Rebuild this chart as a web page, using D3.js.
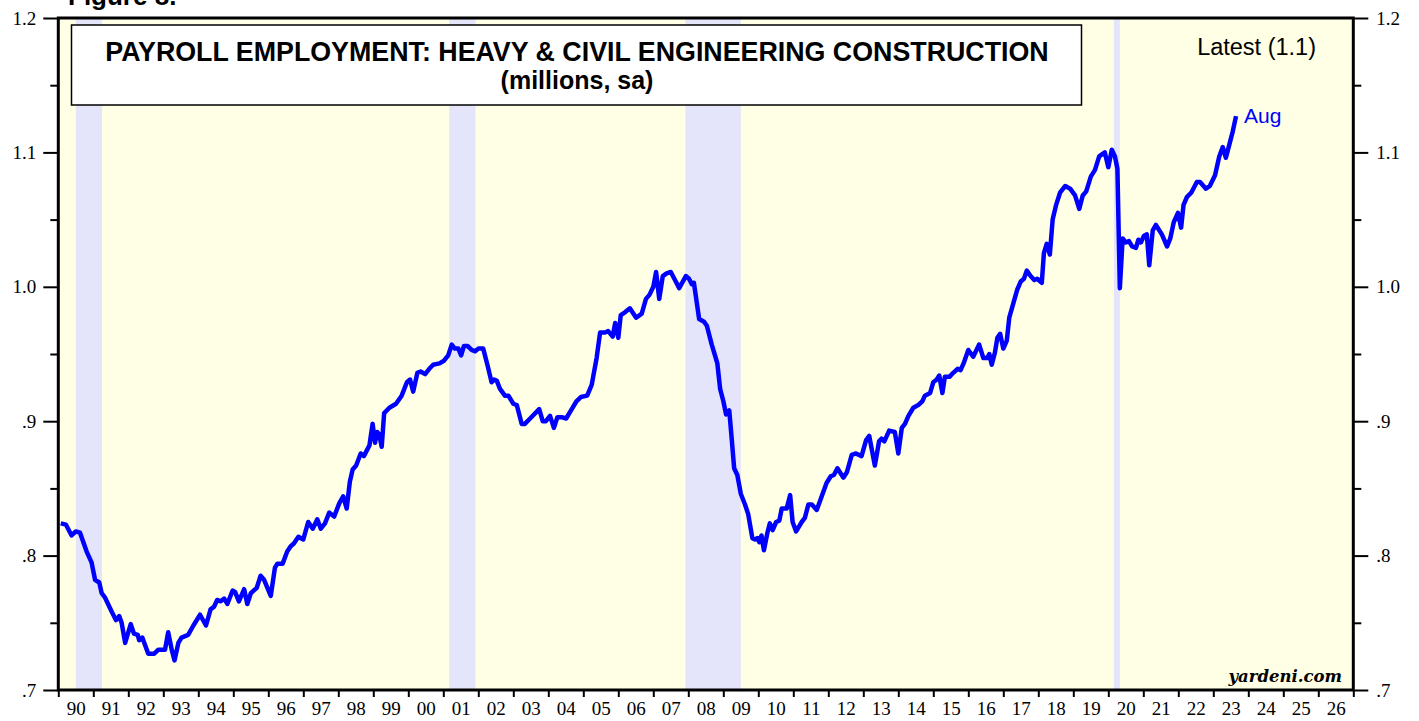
<!DOCTYPE html>
<html>
<head>
<meta charset="utf-8">
<script src="https://cdn.jsdelivr.net/npm/d3@7"></script>
<style>
    body { margin: 0; background: #fff; }
    svg { display: block; }
</style>
</head>
<body>
<svg id="chart" width="1419" height="721"></svg>
<script>
// [decimal year, millions]
const data1990s = [
    [1990.07,.824],[1990.22,.823],[1990.38,.815],[1990.5,.818],[1990.62,.817],[1990.81,.803],[1990.95,.795],
    [1991.05,.782],[1991.17,.780],[1991.24,.772],[1991.33,.769],[1991.53,.758],[1991.65,.752],[1991.74,.755],
    [1991.81,.750],[1991.91,.735],[1992.07,.749],[1992.16,.742],[1992.27,.741],[1992.31,.737],[1992.4,.739],
    [1992.57,.727],[1992.74,.727],[1992.86,.730],[1993.05,.730],[1993.14,.743],[1993.24,.730],[1993.32,.722],
    [1993.43,.735],[1993.52,.739],[1993.71,.741],[1993.86,.748],[1994.05,.756],[1994.22,.748],[1994.35,.760],
    [1994.45,.762],[1994.54,.767],[1994.64,.766],[1994.74,.768],[1994.83,.764],[1994.98,.774],[1995.05,.773],
    [1995.16,.766],[1995.31,.775],[1995.4,.764],[1995.5,.772],[1995.67,.776],[1995.78,.785],[1995.88,.782],
    [1996.07,.770],[1996.19,.791],[1996.26,.794],[1996.41,.794],[1996.54,.803],[1996.64,.807],[1996.73,.809],
    [1996.86,.814],[1997.0,.812],[1997.14,.825],[1997.27,.820],[1997.4,.827],[1997.5,.820],[1997.62,.824],
    [1997.74,.832],[1997.88,.829],[1998.03,.839],[1998.14,.844],[1998.24,.835],[1998.33,.855],[1998.41,.864],
    [1998.51,.867],[1998.64,.876],[1998.73,.874],[1998.89,.882],[1998.98,.898],[1999.05,.884],[1999.11,.892],
    [1999.17,.890],[1999.24,.881],[1999.31,.906],[1999.46,.910],[1999.65,.913],[1999.81,.919],[1999.96,.929]
];
const data2000s = [
    [2000.05,.931],[2000.14,.922],[2000.26,.936],[2000.35,.937],[2000.48,.935],[2000.6,.939],[2000.71,.942],
    [2000.89,.943],[2001.02,.945],[2001.14,.949],[2001.24,.957],[2001.33,.954],[2001.43,.954],[2001.51,.949],
    [2001.59,.956],[2001.69,.956],[2001.81,.953],[2001.91,.952],[2002.0,.954],[2002.14,.954],[2002.26,.942],
    [2002.38,.929],[2002.45,.931],[2002.53,.930],[2002.62,.924],[2002.76,.919],[2002.86,.919],[2003.0,.913],
    [2003.1,.912],[2003.24,.898],[2003.33,.898],[2003.48,.902],[2003.74,.909],[2003.84,.900],[2003.93,.900],
    [2004.05,.904],[2004.16,.895],[2004.26,.903],[2004.38,.903],[2004.51,.902],[2004.67,.909],[2004.81,.915],
    [2004.93,.918],[2005.11,.919],[2005.24,.927],[2005.38,.947],[2005.48,.966],[2005.62,.966],[2005.71,.967],
    [2005.84,.963],[2005.91,.973],[2006.0,.962],[2006.07,.979],[2006.19,.981],[2006.33,.984],[2006.51,.977],
    [2006.67,.980],[2006.79,.991],[2006.89,.994],[2007.0,1.000],[2007.08,1.011],[2007.17,.991],[2007.27,1.008],
    [2007.38,1.010],[2007.5,1.011],[2007.62,1.005],[2007.74,.999],[2007.93,1.008],[2008.02,1.006],[2008.1,1.002],
    [2008.16,1.003],[2008.31,.976],[2008.45,.974],[2008.53,.971],[2008.67,.957],[2008.83,.943],[2008.91,.924],
    [2009.0,.915],[2009.08,.905],[2009.17,.908],[2009.24,.887],[2009.31,.865],[2009.4,.860],[2009.5,.846],
    [2009.62,.838],[2009.71,.831],[2009.83,.813],[2009.91,.812],[2009.97,.813]
];
const data2010s = [
    [2010.03,.810],[2010.09,.815],[2010.16,.804],[2010.26,.817],[2010.33,.824],[2010.41,.819],[2010.51,.825],
    [2010.6,.826],[2010.67,.835],[2010.81,.835],[2010.91,.845],[2010.98,.825],[2011.08,.818],[2011.17,.822],
    [2011.24,.825],[2011.33,.828],[2011.43,.838],[2011.53,.838],[2011.67,.834],[2011.81,.844],[2011.95,.854],
    [2012.07,.859],[2012.16,.860],[2012.26,.865],[2012.43,.858],[2012.53,.862],[2012.67,.875],[2012.79,.876],
    [2012.95,.874],[2013.08,.886],[2013.17,.889],[2013.33,.867],[2013.45,.885],[2013.52,.887],[2013.6,.885],
    [2013.74,.893],[2013.9,.892],[2014.0,.876],[2014.1,.895],[2014.19,.898],[2014.29,.904],[2014.43,.910],
    [2014.57,.912],[2014.69,.915],[2014.76,.919],[2014.91,.921],[2015.0,.929],[2015.1,.931],[2015.17,.934],
    [2015.26,.921],[2015.33,.933],[2015.46,.933],[2015.57,.936],[2015.7,.939],[2015.78,.938],[2015.88,.944],
    [2016.0,.953],[2016.14,.948],[2016.31,.957],[2016.43,.947],[2016.54,.947],[2016.6,.950],[2016.67,.942],
    [2016.76,.951],[2016.83,.962],[2016.91,.965],[2017.0,.954],[2017.1,.960],[2017.17,.977],[2017.29,.988],
    [2017.4,.998],[2017.5,1.004],[2017.59,1.006],[2017.67,1.012],[2017.78,1.008],[2017.89,1.005],[2017.97,1.006],
    [2018.1,1.003],[2018.16,1.025],[2018.24,1.032],[2018.33,1.024],[2018.41,1.050],[2018.51,1.061],[2018.62,1.070],
    [2018.77,1.075],[2018.91,1.073],[2019.05,1.068],[2019.17,1.058],[2019.27,1.068],[2019.37,1.071],[2019.5,1.082],
    [2019.62,1.087],[2019.74,1.097],[2019.9,1.100]
];
const data2020s = [
    [2020.0,1.089],[2020.1,1.102],[2020.19,1.097],[2020.26,1.088],[2020.33,.999],[2020.41,1.036],[2020.5,1.033],
    [2020.59,1.034],[2020.68,1.030],[2020.79,1.029],[2020.86,1.035],[2020.93,1.033],[2021.02,1.038],[2021.1,1.039],
    [2021.17,1.016],[2021.27,1.042],[2021.36,1.046],[2021.53,1.039],[2021.68,1.030],[2021.77,1.036],[2021.87,1.048],
    [2021.99,1.055],[2022.08,1.044],[2022.15,1.061],[2022.25,1.067],[2022.37,1.070],[2022.53,1.078],[2022.62,1.078],
    [2022.79,1.073],[2022.9,1.075],[2023.05,1.083],[2023.17,1.097],[2023.27,1.104],[2023.36,1.096],[2023.48,1.108],
    [2023.55,1.115],[2023.65,1.127]
];

// recessions [start, end] as decimal years
const recessions = [[1990.5, 1991.25], [2001.17, 2001.92], [2007.92, 2009.5], [2020.16, 2020.33]];

const yTicks = [0.7, 0.8, 0.9, 1.0, 1.1, 1.2];
const yMinorTicks = [0.75, 0.85, 0.95, 1.05, 1.15];
const yearTicks = d3.range(1990, 2028);
const yearLabels = ['90','91','92','93','94','95','96','97','98','99','00','01','02','03','04','05','06','07','08','09',
    '10','11','12','13','14','15','16','17','18','19','20','21','22','23','24','25','26'];

const titleText = 'PAYROLL EMPLOYMENT: HEAVY & CIVIL ENGINEERING CONSTRUCTION';
const subtitleText = '(millions, sa)';
const latestText = 'Latest (1.1)';
const lastLabel = 'Aug';

const series = [...data1990s, ...data2000s, ...data2010s, ...data2020s];

const svg = d3.select('#chart');
const plotLeft = 58.3, plotRight = 1353.3, plotTop = 18, plotBottom = 690;
const sans = 'Liberation Sans, Arial, sans-serif';
const serif = 'Liberation Serif, Times New Roman, serif';

const x = d3.scaleLinear().domain([1990, 2027]).range([plotLeft, plotRight]);
const y = d3.scaleLinear().domain([0.7, 1.2]).range([plotBottom, plotTop]);

// plot background
svg.append('rect')
    .attr('x', plotLeft).attr('y', plotTop)
    .attr('width', plotRight - plotLeft).attr('height', plotBottom - plotTop)
    .attr('fill', '#ffffe5');

// recession bands
svg.append('g')
    .selectAll('rect')
    .data(recessions)
    .join('rect')
    .attr('x', d => x(d[0]))
    .attr('width', d => x(d[1]) - x(d[0]))
    .attr('y', plotTop)
    .attr('height', plotBottom - plotTop)
    .attr('fill', '#e4e4fa');

// title box
svg.append('rect')
    .attr('x', 71.5).attr('y', 25)
    .attr('width', 1010).attr('height', 80)
    .attr('fill', '#fff')
    .attr('stroke', '#000')
    .attr('stroke-width', 1.5);

svg.append('text')
    .attr('x', 577).attr('y', 61)
    .attr('text-anchor', 'middle')
    .attr('font-family', sans)
    .attr('font-weight', 'bold')
    .attr('font-size', 26.8)
    .text(titleText);

svg.append('text')
    .attr('x', 577).attr('y', 89)
    .attr('text-anchor', 'middle')
    .attr('font-family', sans)
    .attr('font-weight', 'bold')
    .attr('font-size', 25)
    .text(subtitleText);

svg.append('text')
    .attr('x', 1316).attr('y', 55)
    .attr('text-anchor', 'end')
    .attr('font-family', sans)
    .attr('font-size', 23.5)
    .text(latestText);

svg.append('text')
    .attr('x', 1342).attr('y', 682)
    .attr('text-anchor', 'end')
    .attr('font-family', 'DejaVu Serif, serif')
    .attr('font-weight', 'bold')
    .attr('font-style', 'italic')
    .attr('font-size', 16.5)
    .text('yardeni.com');

// figure caption, cut at the top like the original
svg.append('text')
    .attr('x', 68).attr('y', 5)
    .attr('font-family', sans)
    .attr('font-weight', 'bold')
    .attr('font-size', 26)
    .text('Figure 8.');

// the line
const line = d3.line()
    .x(d => x(d[0]))
    .y(d => y(d[1]));

svg.append('path')
    .datum(series)
    .attr('fill', 'none')
    .attr('stroke', '#0000ff')
    .attr('stroke-width', 4.5)
    .attr('stroke-linejoin', 'round')
    .attr('d', line);

const last = series[series.length - 1];
svg.append('text')
    .attr('x', x(last[0]) + 8)
    .attr('y', y(last[1]) + 7)
    .attr('font-family', sans)
    .attr('font-size', 21)
    .attr('fill', '#0000ff')
    .text(lastLabel);

// axes
const fmt = d => d >= 1 ? d.toFixed(1) : d.toFixed(1).slice(1);

function styleAxis(g) {
    g.select('.domain').remove();
    g.selectAll('line').attr('stroke', '#000').attr('stroke-width', 2);
    g.selectAll('text')
        .attr('font-family', serif)
        .attr('font-size', 19)
        .attr('fill', '#000');
}

svg.append('g')
    .attr('transform', `translate(${plotLeft},0)`)
    .call(d3.axisLeft(y).tickValues(yTicks).tickSize(15).tickPadding(7).tickFormat(fmt))
    .call(styleAxis);
svg.append('g')
    .attr('transform', `translate(${plotLeft},0)`)
    .call(d3.axisLeft(y).tickValues(yMinorTicks).tickSize(8).tickFormat(''))
    .call(styleAxis);
svg.append('g')
    .attr('transform', `translate(${plotRight},0)`)
    .call(d3.axisRight(y).tickValues(yTicks).tickSize(15).tickPadding(8).tickFormat(fmt))
    .call(styleAxis);
svg.append('g')
    .attr('transform', `translate(${plotRight},0)`)
    .call(d3.axisRight(y).tickValues(yMinorTicks).tickSize(8).tickFormat(''))
    .call(styleAxis);

svg.append('g')
    .attr('transform', `translate(0,${plotBottom})`)
    .call(d3.axisBottom(x).tickValues(yearTicks).tickSize(7).tickFormat(''))
    .call(styleAxis);
svg.append('g')
    .attr('transform', `translate(0,${plotBottom})`)
    .call(d3.axisBottom(x).tickValues(yearLabels.map((d, i) => 1990.5 + i)).tickSize(0).tickPadding(12)
        .tickFormat((d, i) => yearLabels[i]))
    .call(styleAxis);

// frame
svg.append('rect')
    .attr('x', plotLeft).attr('y', plotTop)
    .attr('width', plotRight - plotLeft).attr('height', plotBottom - plotTop)
    .attr('fill', 'none')
    .attr('stroke', '#000')
    .attr('stroke-width', 3);
</script>
</body>
</html>
